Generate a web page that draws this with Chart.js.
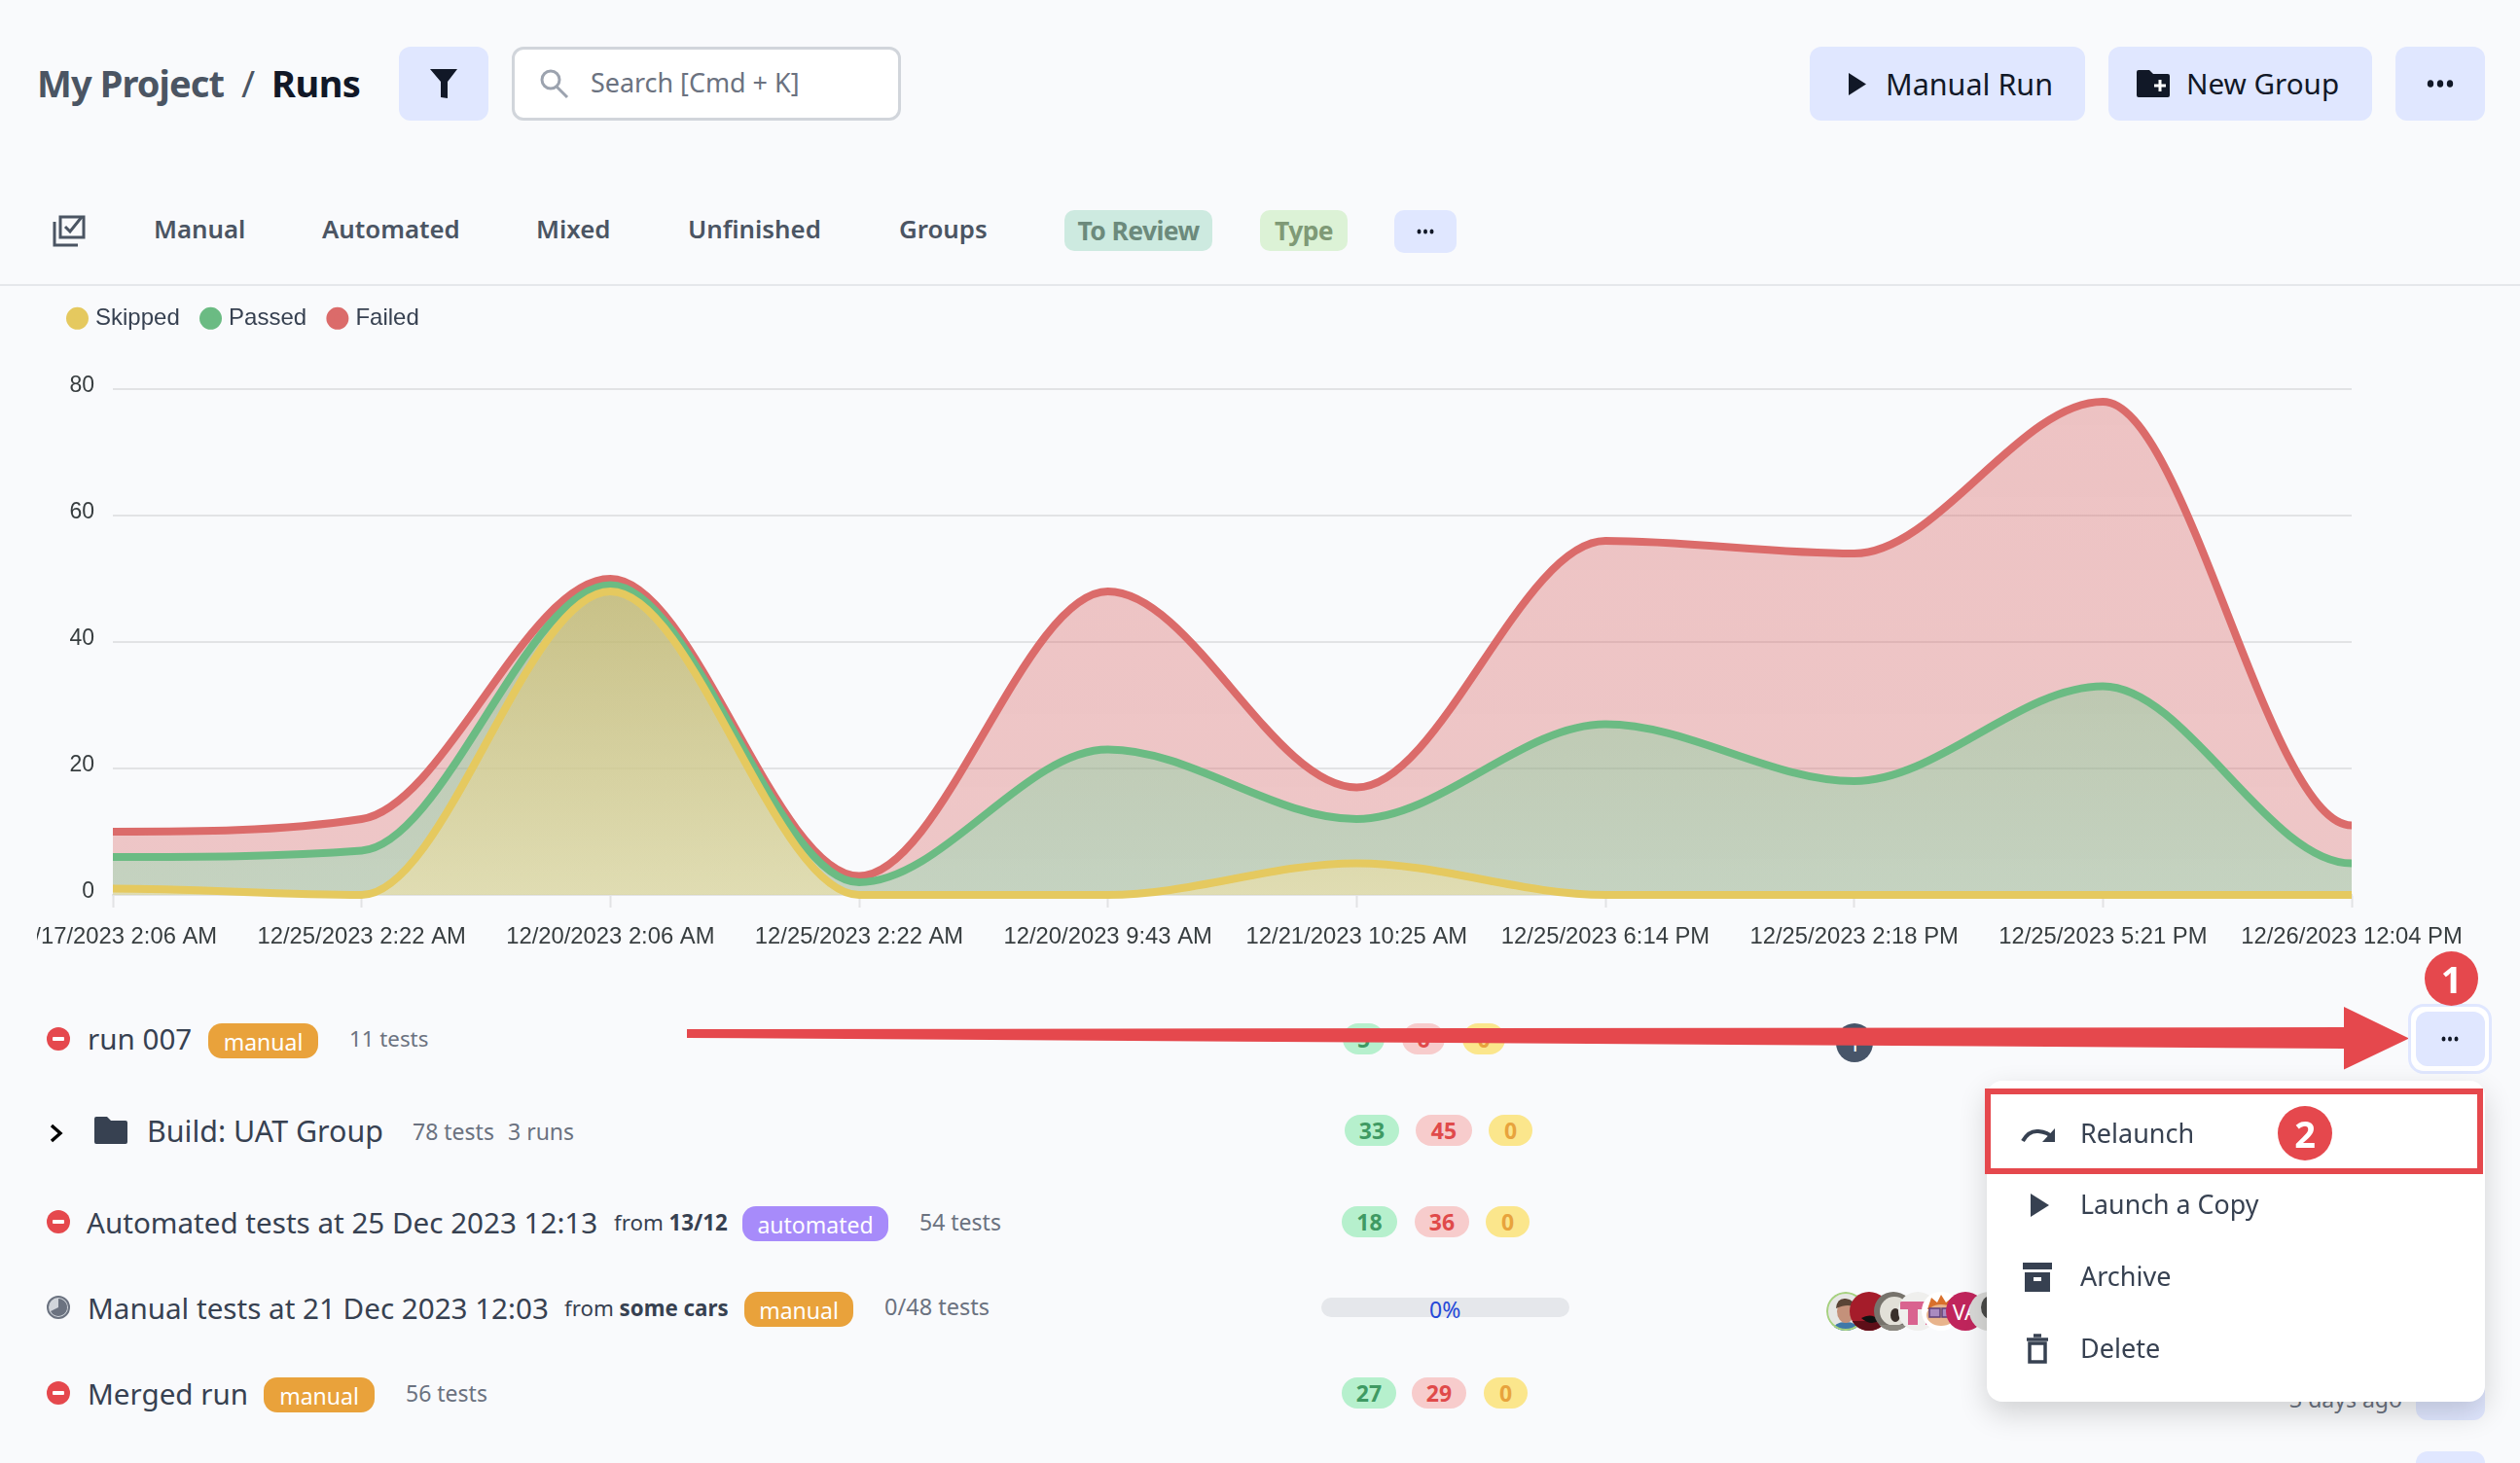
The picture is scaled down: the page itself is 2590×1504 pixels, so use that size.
<!DOCTYPE html>
<html>
<head>
<meta charset="utf-8">
<title>Runs</title>
<script src="https://cdn.jsdelivr.net/npm/chart.js@4"></script>
<style>
    html, body { margin: 0; padding: 0; background: #f9fafc; }
    #page { position: relative; width: 2590px; height: 1504px; overflow: hidden; font-family: "Noto Sans", sans-serif; }
    #page > * { position: absolute; }
    .t { white-space: nowrap; line-height: 1; transform: translateY(-50%); }
    .b { display: flex; align-items: center; justify-content: center; white-space: nowrap; box-sizing: border-box; line-height: 1; }
    #chartWrap { left: 38px; top: 290px; width: 2522px; height: 700px; }
    svg { overflow: visible; }
</style>
</head>
<body>
<div id="page">
    <div id="chartWrap"><canvas id="runsChart"></canvas></div>
</div>
<script>
// chart data
const categories = ['12/17/2023 2:06 AM', '12/25/2023 2:22 AM', '12/20/2023 2:06 AM', '12/25/2023 2:22 AM', '12/20/2023 9:43 AM',
    '12/21/2023 10:25 AM', '12/25/2023 6:14 PM', '12/25/2023 2:18 PM', '12/25/2023 5:21 PM', '12/26/2023 12:04 PM'];
const skipped = [1, 0, 48, 0, 0, 5, 0, 0, 0, 0];
const passed = [5, 7, 1, 2, 23, 7, 27, 18, 33, 5];
const failed = [4, 5, 1, 1, 25, 5, 29, 36, 45, 6];

const page = document.getElementById('page');
const TEXT = '#374151', MUTED = '#6b7280', INDIGO = '#e0e7ff', DARK = '#111827', RED = '#e5484d';

function text(x, cy, str, css) {
    const el = document.createElement('div');
    el.className = 't';
    el.style.cssText = `left:${x}px;top:${cy}px;${css || ''}`;
    el.innerHTML = str;
    page.appendChild(el);
}
function box(x, y, w, h, css, str) {
    const el = document.createElement('div');
    el.className = 'b';
    el.style.cssText = `left:${x}px;top:${y}px;width:${w}px;height:${h}px;${css || ''}`;
    if (str !== undefined) el.innerHTML = str;
    page.appendChild(el);
}
function icon(x, y, w, h, vb, inner) {
    const el = document.createElementNS('http://www.w3.org/2000/svg', 'svg');
    el.setAttribute('viewBox', vb);
    el.style.cssText = `left:${x}px;top:${y}px;width:${w}px;height:${h}px`;
    el.innerHTML = inner;
    page.appendChild(el);
}
function dots(cx, cy, r, color, gap) {
    icon(cx - 15, cy - 5, 30, 10, '0 0 30 10', [15 - gap, 15, 15 + gap].map(d => `<ellipse cx="${d}" cy="5" rx="${r}" ry="${r + 0.6}" fill="${color}"/>`).join(''));
}
function pill(x, w, y, h, bg, color, str) {
    box(x, y, w, h, `background:${bg};color:${color};border-radius:16px;font-size:23px;font-weight:700`, str);
}
function tag(x, w, y, bg, str) {
    box(x, y, w, 36, `background:${bg};color:#fff;border-radius:14px;font-size:23px;padding-top:2px`, str);
}
function failIcon(cy) {
    box(48, cy - 12, 24, 24, `background:#e5484d;border-radius:50%`, '<div style="width:12px;height:4px;background:#fff;border-radius:1px"></div>');
}
function avatar(cx, id, inner) {
    icon(cx - 20, 1328, 40, 40, '0 0 40 40', `<clipPath id="${id}"><circle cx="20" cy="20" r="20"/></clipPath><g clip-path="url(#${id})">${inner}</g>`);
}

// header
text(38, 85, 'My Project', 'font-size:38px;font-weight:700;color:#4b5563;letter-spacing:-0.9px');
text(248, 85, '/', 'font-size:38px;color:#4b5563');
text(279, 85, 'Runs', 'font-size:38px;font-weight:700;color:#111827;letter-spacing:-0.5px');
box(410, 48, 92, 76, `background:${INDIGO};border-radius:12px`);
icon(442, 71, 28, 30, '0 0 28 30', `<path d="M0 0H28L18 13V30L11 29V13Z" fill="${DARK}"/>`);
box(526, 48, 400, 76, 'background:#fff;border:3px solid #d1d5db;border-radius:12px');
icon(554, 71, 32, 30, '0 0 32 30', '<circle cx="12" cy="11" r="9" fill="none" stroke="#9ca3af" stroke-width="3"/><path d="M18 18L29 29" stroke="#9ca3af" stroke-width="3"/>');
text(607, 85, 'Search [Cmd + K]', `font-size:26.9px;color:${MUTED}`);
box(1860, 48, 283, 76, `background:${INDIGO};border-radius:12px`);
icon(1900, 75, 18, 23, '0 0 18 23', `<path d="M0 0L18 11.5L0 23Z" fill="${DARK}"/>`);
text(1938, 86, 'Manual Run', `font-size:30.5px;color:${DARK}`);
box(2167, 48, 271, 76, `background:${INDIGO};border-radius:12px`);
icon(2196, 72, 34, 28, '0 0 34 28', `<path d="M2 0H13L17 4H32Q34 4 34 6V26Q34 28 32 28H2Q0 28 0 26V2Q0 0 2 0Z" fill="${DARK}"/><path d="M24 10V22M18 16H30" stroke="#fff" stroke-width="3"/>`);
text(2247, 86, 'New Group', `font-size:29.6px;color:${DARK}`);
box(2462, 48, 92, 76, `background:${INDIGO};border-radius:12px`);
dots(2508, 86, 3.2, DARK, 10);

// tabs
icon(54, 220, 34, 34, '0 0 34 34', '<path d="M8 3H32V24H8Z" fill="none" stroke="#4b5563" stroke-width="3"/><path d="M2 8V32H26" fill="none" stroke="#4b5563" stroke-width="3"/><path d="M13 13L18 18L30 3" fill="none" stroke="#4b5563" stroke-width="3"/>');
[[158, 'Manual'], [331, 'Automated'], [551, 'Mixed'], [707, 'Unfinished'], [924, 'Groups']].forEach(([x, s]) => text(x, 236, s, 'font-size:25.8px;font-weight:600;color:#4b5563'));
box(1094, 216, 152, 42, 'background:#cdeae0;border-radius:10px;color:#6c8a7c;font-size:26.5px;font-weight:700;letter-spacing:-0.6px', 'To Review');
box(1295, 216, 90, 42, 'background:#dcf2d6;border-radius:10px;color:#7f9a76;font-size:26.5px;font-weight:700;letter-spacing:-0.6px', 'Type');
box(1433, 216, 64, 44, `background:${INDIGO};border-radius:10px`);
dots(1465, 238, 2, DARK, 6.5);
box(0, 292, 2590, 2, 'background:#e5e7eb');

// row 1
failIcon(1068);
text(90, 1068, 'run 007', `font-size:29.6px;color:${TEXT}`);
tag(214, 113, 1052, '#e9a23b', 'manual');
text(359, 1068, '11 tests', `font-size:22.3px;color:${MUTED}`);
pill(1380, 43, 1052, 32, '#b6f0cd', '#3f9a63', passed[9]);
pill(1441, 44, 1052, 32, '#f7cccc', '#e04a4a', failed[9]);
pill(1503, 44, 1052, 32, '#fbe68c', '#e8a33d', 0);
box(1887, 1052, 38, 40, 'background:#475569;border-radius:50%;color:#fff;font-size:23px', '1');

// row 2
icon(50, 1155, 16, 20, '0 0 16 20', '<path d="M3 2L12 10L3 18" fill="none" stroke="#000" stroke-width="3.4"/>');
icon(97, 1148, 34, 28, '0 0 34 28', `<path d="M2 0H13L17 4H32Q34 4 34 6V26Q34 28 32 28H2Q0 28 0 26V2Q0 0 2 0Z" fill="#374151"/>`);
text(151, 1163, 'Build: UAT Group', `font-size:30.4px;color:${TEXT}`);
text(424, 1163, '78 tests', `font-size:23px;color:${MUTED}`);
text(522, 1163, '3 runs', `font-size:23px;color:${MUTED}`);
pill(1382, 56, 1146, 32, '#b6f0cd', '#3f9a63', 33);
pill(1455, 58, 1146, 32, '#f7cccc', '#e04a4a', 45);
pill(1530, 45, 1146, 32, '#fbe68c', '#e8a33d', 0);

// row 3
failIcon(1256);
text(89, 1257, 'Automated tests at 25 Dec 2023 12:13', `font-size:29.6px;color:${TEXT}`);
text(631, 1257, 'from <b>13/12</b>', `font-size:22.3px;color:${TEXT}`);
tag(763, 150, 1240, '#a78bfa', 'automated');
text(945, 1256, '54 tests', `font-size:23px;color:${MUTED}`);
pill(1379, 57, 1240, 32, '#b6f0cd', '#3f9a63', 18);
pill(1454, 56, 1240, 32, '#f7cccc', '#e04a4a', 36);
pill(1527, 45, 1240, 32, '#fbe68c', '#e8a33d', 0);

// row 4
icon(48, 1332, 24, 24, '0 0 24 24', '<circle cx="12" cy="12" r="11" fill="#d1d5db" stroke="#6b7280" stroke-width="2"/><path d="M12 12V3A9 9 0 1 1 4 16Z" fill="#6b7280"/>');
text(90, 1345, 'Manual tests at 21 Dec 2023 12:03', `font-size:29.6px;color:${TEXT}`);
text(580, 1345, 'from <b>some cars</b>', `font-size:22.3px;color:${TEXT}`);
tag(765, 112, 1328, '#e9a23b', 'manual');
text(909, 1344, '0/48 tests', `font-size:23.5px;color:${MUTED}`);
box(1358, 1334, 255, 20, 'background:#e5e7eb;border-radius:10px');
text(1469, 1346, '0%', 'font-size:23px;color:#2448d8');

// avatars, latest on top
avatar(1897, 'a1', '<rect width="40" height="40" fill="#e6e6e4"/><path d="M6 40Q8 31 20 31T34 40Z" fill="#3f78a8"/><ellipse cx="20" cy="20" rx="9" ry="12" fill="#c4917a"/><path d="M10 17Q11 6 20 7T30 17Q24 11 10 17Z" fill="#5a4436"/><circle cx="20" cy="20" r="19" fill="none" stroke="#a6d27f" stroke-width="2"/>');
avatar(1921, 'a2', '<rect width="40" height="40" fill="#a51c2a"/><path d="M0 30H40V40H0Z" fill="#5e0e18"/><path d="M12 27Q22 21 31 29Q22 36 12 27Z" fill="#111"/>');
avatar(1946, 'a3', '<rect width="40" height="40" fill="#77736c"/><ellipse cx="21" cy="20" rx="15" ry="15" fill="#e2e0d8"/><ellipse cx="22" cy="24" rx="5" ry="7" fill="#3a302c"/><path d="M0 34H40V40H0Z" fill="#8b8880"/>');
avatar(1971, 'a4', '<rect width="40" height="40" fill="#efefed"/><path d="M2 10H38V18H30V26H38V34H28V18H20V34H10V18H2Z" fill="#d9638f"/>');
avatar(1995, 'a5', '<rect width="40" height="40" fill="#fff"/><path d="M6 18L10 6L16 11L20 3L25 11L31 6L34 18Z" fill="#d9702c"/><ellipse cx="20" cy="24" rx="15" ry="11" fill="#e8b48c"/><rect x="8" y="17" width="11" height="9" fill="#a98bc0" stroke="#5d3f7a" stroke-width="1.5"/><rect x="21" y="17" width="11" height="9" fill="#a98bc0" stroke="#5d3f7a" stroke-width="1.5"/>');
box(2000, 1328, 40, 40, 'background:#c0255c;border-radius:50%;color:#fff;font-size:22px', 'VA');
avatar(2044, 'a7', '<rect width="40" height="40" fill="#d9d9d7"/><ellipse cx="22" cy="16" rx="10" ry="12" fill="#4a4a48"/>');

// row 5
failIcon(1432);
text(90, 1433, 'Merged run', `font-size:29.6px;color:${TEXT}`);
tag(271, 114, 1416, '#e9a23b', 'manual');
text(417, 1432, '56 tests', `font-size:23px;color:${MUTED}`);
pill(1379, 56, 1416, 32, '#b6f0cd', '#3f9a63', 27);
pill(1451, 56, 1416, 32, '#f7cccc', '#e04a4a', 29);
pill(1525, 45, 1416, 32, '#fbe68c', '#e8a33d', 0);
text(2353, 1438, '3 days ago', `font-size:23px;color:${MUTED}`);
box(2483, 1410, 71, 50, `background:${INDIGO};border-radius:12px`);
box(2483, 1492, 71, 40, `background:${INDIGO};border-radius:12px`);

// arrow and marked button
icon(0, 0, 2590, 1504, '0 0 2590 1504', `<path d="M706 1058L2409 1056V1035L2476 1067.6L2409 1099.5V1078L706 1067Z" fill="${RED}"/>`);
box(2475, 1032, 86, 72, `background:#fff;border:3px solid ${INDIGO};border-radius:16px`);
box(2483, 1040, 71, 56, `background:${INDIGO};border-radius:12px`);
dots(2518, 1068, 2, DARK, 6.5);
box(2492, 978, 55, 56, `background:${RED};border-radius:50%;color:#fff;font-size:38px;font-weight:700`, '1');

// dropdown menu
box(2042, 1111, 512, 330, 'background:#fff;border-radius:16px;box-shadow:0 12px 30px rgba(0,0,0,0.16)');
box(2040, 1119, 512, 88, `background:#fff;border:6.5px solid ${RED}`);
icon(2077, 1158, 35, 16, '0 0 35 16', '<path d="M2 15Q8 4 18 5T32 11" fill="none" stroke="#374151" stroke-width="4"/><path d="M35 2V16H22Z" fill="#374151"/>');
text(2138, 1164, 'Relaunch', `font-size:27px;color:${TEXT}`);
box(2341, 1137, 56, 56, `background:${RED};border-radius:50%;color:#fff;font-size:38px;font-weight:700`, '2');
icon(2087, 1227, 19, 24, '0 0 19 24', '<path d="M0 0L19 12L0 24Z" fill="#374151"/>');
text(2138, 1238, 'Launch a Copy', `font-size:26.8px;color:${TEXT}`);
icon(2079, 1298, 30, 30, '0 0 30 30', '<path d="M0 0H30V7H0ZM2 10H28V30H2Z" fill="#374151"/><path d="M11 15H19V19H11Z" fill="#fff"/>');
text(2138, 1311, 'Archive', `font-size:27px;color:${TEXT}`);
icon(2083, 1372, 22, 30, '0 0 22 30', '<path d="M7 1H15M0 5H22" stroke="#374151" stroke-width="3.5"/><path d="M3 9H19V28H3Z" fill="none" stroke="#374151" stroke-width="3.5"/>');
text(2138, 1385, 'Delete', `font-size:27px;color:${TEXT}`);

// chart
function fillGradient(topColor, bottomColor) {
    return (context) => {
        const { ctx, chartArea } = context.chart;
        if (!chartArea) return topColor;
        const g = ctx.createLinearGradient(0, chartArea.top, 0, chartArea.bottom);
        g.addColorStop(0, topColor);
        g.addColorStop(1, bottomColor);
        return g;
    };
}
const lineClip = { left: 0, right: 0, top: 10, bottom: 10 };
const legendGap = {
    id: 'legendGap',
    beforeInit(chart) {
        const fit = chart.legend.fit;
        chart.legend.fit = function () {
            fit.call(this);
            this.height += 50.7;
        };
    }
};
// the reference curves arrive flat at both ends of the axis
const flatEnds = {
    id: 'flatEnds',
    beforeDraw(chart) {
        chart.getSortedVisibleDatasetMetas().forEach(meta => {
            meta.dataset.updateControlPoints(chart.chartArea);
            const first = meta.data[0], last = meta.data[meta.data.length - 1];
            first.cp2y = first.y;
            last.cp1y = last.y;
        });
    }
};

new Chart(document.getElementById('runsChart'), {
    type: 'line',
    data: {
        labels: categories,
        datasets: [
            { label: 'Skipped', data: skipped, borderColor: '#e5c95f', pointBackgroundColor: '#e5c95f', backgroundColor: fillGradient('rgba(185,165,71,0.6)', 'rgba(243,228,169,0.6)'), borderWidth: 8, pointRadius: 0, fill: 'origin', cubicInterpolationMode: 'monotone', clip: lineClip },
            { label: 'Passed', data: passed, borderColor: '#6bbb83', pointBackgroundColor: '#6bbb83', backgroundColor: fillGradient('rgba(72,169,81,0.35)', 'rgba(118,234,180,0.35)'), borderWidth: 8, pointRadius: 0, fill: 'origin', cubicInterpolationMode: 'monotone', clip: lineClip },
            { label: 'Failed', data: failed, borderColor: '#db6b6a', pointBackgroundColor: '#db6b6a', backgroundColor: fillGradient('rgba(219,107,106,0.39)', 'rgba(219,107,106,0.36)'), borderWidth: 8, pointRadius: 0, fill: 'origin', cubicInterpolationMode: 'monotone', clip: lineClip }
        ]
    },
    options: {
        responsive: true, maintainAspectRatio: false, animation: false,
        layout: { padding: { left: 9.7, right: 143, top: 0, bottom: 0 } },
        plugins: {
            legend: {
                position: 'top', align: 'start',
                labels: { usePointStyle: true, pointStyle: 'circle', boxWidth: 13, boxHeight: 10.6, padding: 25.3, color: '#374151', font: { family: 'Liberation Sans', size: 24 } }
            },
            tooltip: { enabled: false }
        },
        scales: {
            x: {
                grid: { drawOnChartArea: false, drawTicks: true, tickLength: 13, tickColor: '#e2e3e5', tickWidth: 2 },
                border: { display: true, color: '#e2e3e5', width: 2 },
                ticks: { autoSkip: false, maxRotation: 0, minRotation: 0, padding: 16, color: '#373d3f', font: { family: 'Liberation Sans', size: 23.8 } },
                afterFit(scale) { scale.height = 70; scale.paddingLeft = 0; scale.paddingRight = 0; }
            },
            y: {
                stacked: true, min: 0, max: 80,
                grid: { color: '#e2e3e5', lineWidth: 2, drawTicks: false },
                border: { display: false },
                ticks: { stepSize: 20, padding: 19, labelOffset: -3, color: '#373d3f', font: { family: 'Liberation Sans', size: 23 } },
                afterFit(scale) { scale.width = 68.3; scale.paddingTop = 0; scale.paddingBottom = 0; }
            }
        }
    },
    plugins: [legendGap, flatEnds]
});
</script>
</body>
</html>
